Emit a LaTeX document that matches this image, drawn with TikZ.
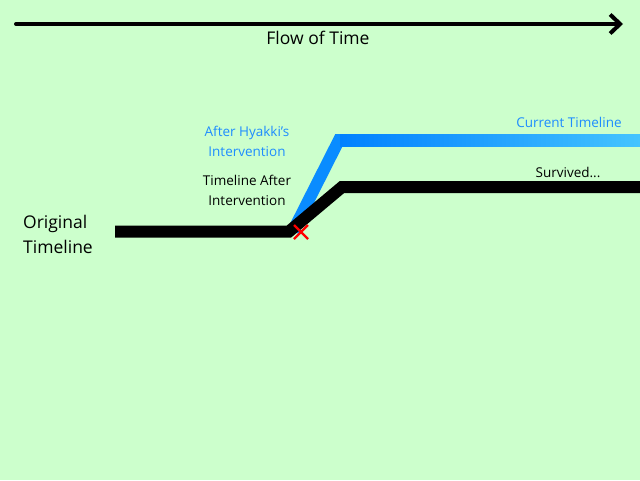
\documentclass[tikz,border=0pt]{standalone}
\usepackage{fontspec}
\setmainfont{Open Sans}
\usetikzlibrary{arrows.meta,calc}
\definecolor{bg}{HTML}{CCFFCC}
\definecolor{tlblue}{HTML}{1E8CFF}
\definecolor{lineblue}{HTML}{0A8CFF}
\definecolor{lineblueL}{HTML}{0080FF}
\definecolor{lineblueR}{HTML}{44C4FF}
\tikzset{
  big/.style={font=\fontsize{17.5}{25}\selectfont, align=left, inner sep=0pt},
  small/.style={font=\fontsize{13.5}{20}\selectfont, align=center, inner sep=0pt},
  blacktl/.style={line width=12pt, line join=miter, black},
  bluetl/.style={line width=12pt, line join=miter, lineblue},
}
\begin{document}
\begin{tikzpicture}[x=1pt,y=-1pt]
\fill[bg] (0,0) rectangle (640,480);
\useasboundingbox (0,0) rectangle (640,480);
% time arrow
\coordinate (ts) at (16,24);
\coordinate (te) at (623,24);
\draw[line width=4pt, line cap=round, -{Straight Barb[length=10pt,width=19pt,line width=4pt]}] (ts) -- (te);
\node[big] (flow) at (318,38) {Flow of Time};
% blue current timeline
\coordinate (b0) at (293,231);
\coordinate (b1) at (339,140);
\coordinate (b2) at (640,140);
\draw[bluetl] (b0) -- (b1) -- (b2);
\shade[left color=lineblueL, right color=lineblueR] (340,134) rectangle (640,146);
% black timeline
\coordinate (k0) at (115,231.5);
\coordinate (k1) at (289,231.5);
\coordinate (k2) at (342,187);
\coordinate (k3) at (640,187);
\draw[blacktl] (k0) -- (k1) -- (k2) -- (k3);
% red cross
\coordinate (x) at (301,232);
\draw[red, line width=2.2pt] ($(x)+(-7,-7)$) -- ($(x)+(7,7)$) ($(x)+(-7,7)$) -- ($(x)+(7,-7)$);
% labels
\node[big, anchor=west] (orig) at (23,234) {Original\\Timeline};
\node[small, text=tlblue] (after) at (247,141) {After Hyakki{\char"0027}s\\Intervention};
\node[small] (tla) at (247,190) {Timeline After\\Intervention};
\node[small, text=tlblue] (cur) at (569,122) {Current Timeline};
\node[small] (surv) at (568,172) {Survived...};
\end{tikzpicture}
\end{document}
